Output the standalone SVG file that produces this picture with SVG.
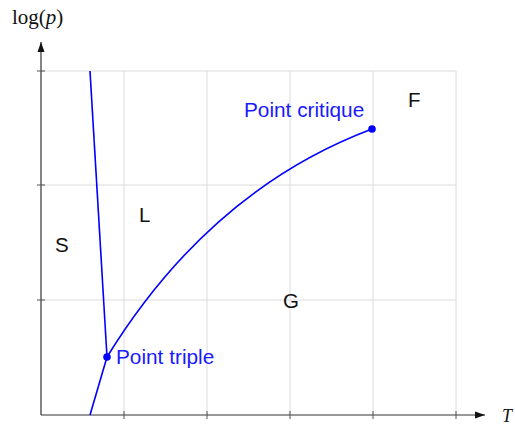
<svg xmlns="http://www.w3.org/2000/svg" width="515" height="425" viewBox="0 0 515 425">
<defs>
<style>
.grid{stroke:#dcdcdc;stroke-width:1;fill:none}
.axis{stroke:#333;stroke-width:1.2;fill:none}
.tick{stroke:#555;stroke-width:1;fill:none}
.curve{stroke:#0000ff;stroke-width:1.6;fill:none}
.lbl{font-family:"Liberation Sans",Arial,sans-serif;font-size:20.5px;fill:#111}
.blbl{font-family:"Liberation Sans",Arial,sans-serif;font-size:20.8px;fill:#1a1aff}
.math{font-family:"Liberation Serif","Times New Roman",serif;fill:#111}
</style>
<marker id="arr" viewBox="0 0 10 10" refX="10" refY="5" markerWidth="10" markerHeight="10" markerUnits="userSpaceOnUse" orient="auto">
<path d="M0,1.5 L10,5 L0,8.5 Z" fill="#111"/>
</marker>
</defs>
<g id="grid">
<path class="grid" d="M124,71V415M207,71V415M290,71V415M373,71V415M456,71V415M41,71H456M41,185H456M41,300H456"/>
</g>
<g id="axes">
<line class="axis" x1="41" y1="415" x2="485" y2="415" marker-end="url(#arr)"/>
<line class="axis" x1="41" y1="415" x2="41" y2="42" marker-end="url(#arr)"/>
<path class="tick" d="M124,411V419M207,411V419M290,411V419M373,411V419M456,411V419M37,71H45M37,185H45M37,300H45"/>
<text class="math" x="12" y="24" font-size="21">log(<tspan font-style="italic">p</tspan>)</text>
<text class="math" x="502" y="422" font-size="18" font-style="italic">T</text>
</g>
<g id="connectors">
<line class="curve" x1="90" y1="71" x2="107" y2="357"/>
<line class="curve" x1="90" y1="415" x2="107" y2="357"/>
<path class="curve" d="M107,357 Q210,190 372,129"/>
</g>
<g id="triple">
<circle cx="107" cy="357" r="3.8" fill="#0000ff"/>
<text class="blbl" x="116" y="364">Point triple</text>
</g>
<g id="critique">
<circle cx="372" cy="129" r="3.8" fill="#0000ff"/>
<text class="blbl" x="244" y="117">Point critique</text>
</g>
<g id="S"><text class="lbl" x="55" y="252">S</text></g>
<g id="L"><text class="lbl" x="139" y="222">L</text></g>
<g id="G"><text class="lbl" x="283" y="308">G</text></g>
<g id="F"><text class="lbl" x="408" y="107">F</text></g>
</svg>
